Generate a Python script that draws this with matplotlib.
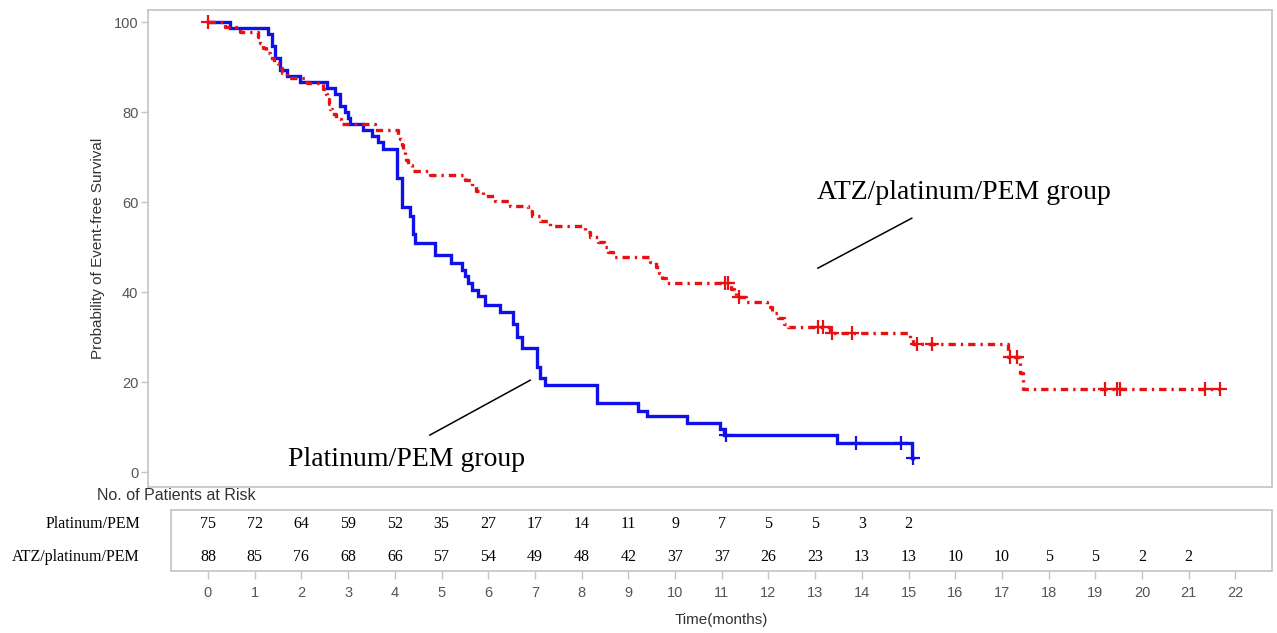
import numpy as np
import matplotlib
matplotlib.use("Agg")
import matplotlib.pyplot as plt

# ---------------- data ----------------
plat_t = [0, 0.47, 1.28, 1.37, 1.43, 1.54, 1.69, 1.97, 2.55, 2.72, 2.83, 2.93, 3.00, 3.04,
          3.32, 3.51, 3.64, 3.75, 4.05, 4.15, 4.33, 4.39, 4.43, 4.86, 5.20, 5.44, 5.50,
          5.57, 5.65, 5.78, 5.93, 6.25, 6.53, 6.62, 6.72, 7.04, 7.11, 7.22, 8.33, 9.21,
          9.40, 10.26, 10.96, 11.05, 13.47, 15.07, 15.10]
plat_s = [100, 98.7, 97.3, 94.7, 92.0, 89.3, 88.0, 86.7, 85.3, 84.0, 81.3, 80.0, 78.7, 77.3,
          76.0, 74.7, 73.3, 71.8, 65.3, 58.9, 57.0, 53.0, 50.8, 48.2, 46.4, 45.0, 43.5,
          42.0, 40.5, 39.2, 37.1, 35.6, 33.0, 30.0, 27.5, 23.4, 20.8, 19.3, 15.3, 13.6,
          12.4, 10.9, 9.5, 8.2, 6.4, 3.1, 3.1]
plat_cens = [11.09, 13.88, 14.84, 15.10]

atz_t = [0, 0.36, 0.69, 1.07, 1.11, 1.18, 1.24, 1.33, 1.41, 1.50, 1.58, 1.69, 2.12, 2.46,
         2.53, 2.55, 2.59, 2.61, 2.66, 2.74, 2.85, 3.58, 4.07, 4.11, 4.15, 4.18, 4.22,
         4.24, 4.28, 4.37, 4.75, 5.50, 5.65, 5.74, 5.89, 6.15, 6.47, 6.85, 6.94, 7.11,
         7.32, 8.07, 8.18, 8.35, 8.48, 8.57, 8.67, 9.46, 9.59, 9.66, 9.72, 9.81, 11.20,
         11.26, 11.30, 11.52, 11.97, 12.08, 12.21, 12.33, 12.42, 13.32, 15.03, 15.10,
         17.13, 17.39, 17.45, 21.67]
atz_s = [100, 98.9, 97.7, 96.6, 95.4, 94.3, 93.2, 92.0, 90.9, 89.8, 88.6, 87.5, 86.4, 85.2,
         84.1, 83.0, 81.8, 80.7, 79.5, 78.4, 77.3, 76.1, 75.0, 73.9, 72.7, 71.6, 70.5,
         69.3, 68.2, 67.0, 65.9, 64.8, 63.6, 62.5, 61.4, 60.2, 59.1, 58.0, 56.8, 55.7,
         54.6, 53.4, 52.3, 51.1, 50.0, 48.9, 47.7, 46.6, 45.5, 44.3, 43.2, 42.0, 40.7,
         39.9, 38.9, 37.8, 36.6, 35.4, 34.2, 33.0, 32.2, 30.9, 29.5, 28.4,
         25.6, 22.0, 18.4, 18.4]
atz_cens = [0, 11.07, 11.13, 11.37, 13.06, 13.17, 13.36, 13.79, 15.18, 15.50, 17.17, 17.32,
            19.21, 19.46, 19.53, 21.35, 21.67]

risk_times = list(range(0, 22))
risk_plat = [75, 72, 64, 59, 52, 35, 27, 17, 14, 11, 9, 7, 5, 5, 3, 2]
risk_atz = [88, 85, 76, 68, 66, 57, 54, 49, 48, 42, 37, 37, 26, 23, 13, 13, 10, 10, 5, 5, 2, 2]
xtick_vals = list(range(0, 23))
ytick_vals = [0, 20, 40, 60, 80, 100]

group_labels = ["Platinum/PEM", "ATZ/platinum/PEM"]
curve_labels = ["Platinum/PEM group", "ATZ/platinum/PEM group"]

# ---------------- layout ----------------
W, H = 1277, 633
fig = plt.figure(figsize=(W / 100, H / 100), dpi=100)
fig.patch.set_facecolor("white")

def fr(l, t, r, b):
    return [l / W, 1 - b / H, (r - l) / W, (b - t) / H]

X0PX, PXM = 208.0, 46.7  # x pixel of t=0, pixels per month

ax = fig.add_axes(fr(148, 10, 1272, 487))
ax.set_xlim((148 - X0PX) / PXM, (1272 - X0PX) / PXM)
ax.set_ylim(-(487 - 472) / 4.5, 100 + (22 - 10) / 4.5)

frame_col = "#c4c4c4"
tick_col = "#555555"
sans = ["Liberation Sans", "DejaVu Sans"]
serif = ["Liberation Serif", "DejaVu Serif"]

for sp in ax.spines.values():
    sp.set_color(frame_col)
    sp.set_linewidth(1.2)
ax.set_xticks([])
ax.set_yticks(ytick_vals)
ax.tick_params(axis="y", length=5, width=1, color=frame_col, pad=2,
               labelsize=10.5, labelcolor=tick_col)
for lab in ax.get_yticklabels():
    lab.set_fontfamily(sans)

blue = "#1010e8"
red = "#e81010"

ax.step(plat_t, plat_s, where="post", color=blue, lw=2.4, solid_joinstyle="miter")
ax.step(atz_t, atz_s, where="post", color=red, lw=2.4,
        linestyle=(0, (2.2, 1.5, 0.7, 1.5)), dash_capstyle="butt")

def surv_at(ts, ss, c):
    idx = np.searchsorted(np.asarray(ts), c, side="right") - 1
    return np.asarray(ss)[idx]

ax.plot(plat_cens, [surv_at(plat_t, plat_s, c) for c in plat_cens], linestyle="none",
        marker="+", ms=10, mew=1.6, color=blue)
ax.plot(atz_cens, [surv_at(atz_t, atz_s, c) for c in atz_cens], linestyle="none",
        marker="+", ms=10, mew=1.6, color=red)

ax.set_ylabel("Probability of Event-free Survival", fontsize=11, color="#333333",
              family=sans, labelpad=6)

# annotations
ax.plot([13.06, 15.07], [45.3, 56.4], color="black", lw=1.1)
ax.plot([4.75, 6.90], [8.2, 20.4], color="black", lw=1.1)
ax.text(13.04, 62.2, curve_labels[1], fontsize=20, family=serif, va="center", ha="left")
ax.text(1.71, 2.7, curve_labels[0], fontsize=20, family=serif, va="center", ha="left")

# ---------------- risk table ----------------
fig.text(97 / W, 1 - 495 / H, "No. of Patients at Risk", fontsize=11.5, color="#333333",
         family=sans, va="center", ha="left")

tx = fig.add_axes(fr(171, 510, 1272, 571))
tx.set_xlim((171 - X0PX) / PXM, (1272 - X0PX) / PXM)
tx.set_ylim(0, 1)
for sp in tx.spines.values():
    sp.set_color(frame_col)
    sp.set_linewidth(1.2)
tx.set_yticks([])
tx.set_xticks(xtick_vals)
tx.tick_params(axis="x", length=6, width=1, color=frame_col, pad=5,
               labelsize=10.5, labelcolor=tick_col)
for lab in tx.get_xticklabels():
    lab.set_fontfamily(sans)
tx.set_xlabel("Time(months)", fontsize=11, color="#333333", family=sans, labelpad=9)

row_y = [0.77, 0.23]
for i, c in enumerate(risk_plat):
    tx.text(risk_times[i], row_y[0], str(c), ha="center", va="center", fontsize=11.5,
            family=serif)
for i, c in enumerate(risk_atz):
    tx.text(risk_times[i], row_y[1], str(c), ha="center", va="center", fontsize=11.5,
            family=serif)
for lbl, yy in zip(group_labels, [524, 557]):
    fig.text(140 / W, 1 - yy / H, lbl, ha="right", va="center", fontsize=11.5,
             family=serif)

fig.savefig("out.png", dpi=100, facecolor="white")
